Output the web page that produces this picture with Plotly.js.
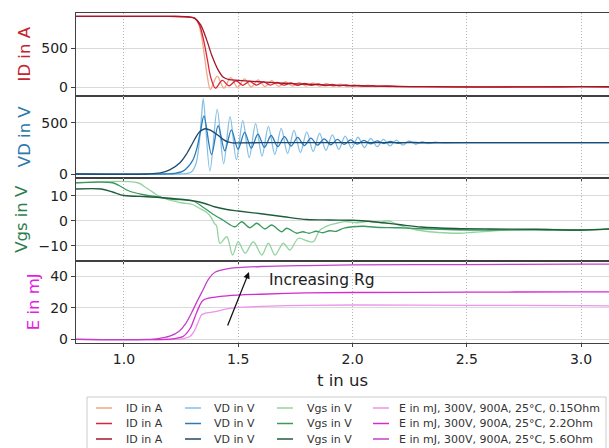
<!DOCTYPE html>
<html>
<head>
<meta charset="utf-8">
<script src="https://cdn.plot.ly/plotly-3.0.1.min.js"></script>
<style>
  html, body { margin: 0; padding: 0; background: #fff; }
  #chart { width: 609px; height: 448px; }
</style>
</head>
<body>
<div id="chart"></div>
<script>
// Turn-off transients at 300 V / 900 A / 25 °C for three gate resistances.
const rgNames = ['0.15Ohm', '2.2Ohm', '5.6Ohm'];

// Drain current, A
const tId015 = [0.79, 1.20, 1.28, 1.31, 1.325, 1.34, 1.352, 1.364, 1.378, 1.408, 1.437, 1.467, 1.497, 1.527, 1.557, 1.587, 1.617, 1.647, 1.677, 1.707, 1.737, 1.767, 1.797, 1.827, 1.857, 1.887, 1.917, 1.947, 1.977, 2.007, 2.037, 2.067, 2.097, 2.127, 2.157, 2.20, 2.30, 2.45, 2.60, 2.80, 3.00, 3.13];
const id015  = [905, 905, 900, 885, 820, 640, 400, 150, -30, 140, -15, 120, -5, 105, 0, 92, 5, 80, 8, 70, 10, 60, 10, 52, 10, 45, 8, 38, 6, 30, 5, 24, 4, 18, 3, 8, 3, 0, -2, 2, 4, 3];
const tId22  = [0.79, 1.20, 1.28, 1.31, 1.33, 1.35, 1.365, 1.38, 1.40, 1.43, 1.46, 1.49, 1.52, 1.55, 1.58, 1.61, 1.64, 1.67, 1.70, 1.73, 1.76, 1.79, 1.82, 1.85, 1.88, 1.91, 1.94, 1.97, 2.00, 2.03, 2.06, 2.09, 2.12, 2.15, 2.20, 2.30, 2.45, 2.60, 2.80, 3.00, 3.13];
const id22   = [905, 905, 898, 880, 800, 580, 350, 120, -15, 85, 15, 80, 22, 72, 25, 65, 25, 58, 24, 52, 22, 46, 20, 40, 17, 34, 14, 28, 12, 22, 10, 17, 8, 13, 6, 4, 1, -1, 2, 4, 3];
const tId56  = [0.79, 1.20, 1.28, 1.31, 1.335, 1.36, 1.385, 1.41, 1.435, 1.46, 1.50, 1.55, 1.62, 1.70, 1.80, 1.90, 2.00, 2.10, 2.25, 2.45, 2.65, 2.85, 3.00, 3.13];
const id56   = [905, 905, 900, 880, 800, 620, 400, 230, 125, 95, 85, 75, 62, 48, 35, 25, 17, 11, 6, 2, 1, 2, 4, 3];

// Drain voltage, V
const tVd015 = [0.79, 1.24, 1.27, 1.295, 1.315, 1.33, 1.34, 1.347, 1.376, 1.408, 1.436, 1.464, 1.492, 1.520, 1.548, 1.576, 1.604, 1.632, 1.660, 1.688, 1.716, 1.744, 1.772, 1.800, 1.828, 1.856, 1.884, 1.912, 1.940, 1.968, 1.996, 2.024, 2.052, 2.080, 2.108, 2.136, 2.164, 2.192, 2.220, 2.248, 2.276, 2.304, 2.332, 2.36, 2.40, 2.50, 3.13];
const vd015  = [0, 0, 3, 20, 100, 320, 580, 735, 30, 630, 100, 560, 140, 520, 160, 490, 175, 465, 190, 445, 200, 425, 210, 410, 220, 395, 230, 382, 240, 370, 250, 358, 258, 348, 266, 338, 274, 330, 282, 322, 290, 316, 296, 310, 302, 305, 305];
const tVd22  = [0.79, 1.18, 1.22, 1.26, 1.30, 1.32, 1.335, 1.350, 1.383, 1.412, 1.441, 1.470, 1.499, 1.528, 1.557, 1.586, 1.615, 1.644, 1.673, 1.702, 1.731, 1.760, 1.789, 1.818, 1.847, 1.876, 1.905, 1.934, 1.963, 1.992, 2.021, 2.050, 2.079, 2.108, 2.137, 2.166, 2.195, 2.25, 2.30, 2.40, 3.13];
const vd22   = [0, 0, 5, 30, 130, 260, 420, 565, 190, 470, 225, 430, 240, 405, 252, 388, 260, 375, 266, 365, 272, 357, 277, 350, 281, 343, 285, 337, 288, 332, 291, 327, 294, 322, 297, 318, 300, 310, 304, 305, 305];
const tVd56  = [0.79, 1.10, 1.16, 1.20, 1.245, 1.275, 1.30, 1.33, 1.355, 1.38, 1.41, 1.435, 1.455, 1.475, 1.50, 1.60, 3.13];
const vd56   = [0, 0, 10, 40, 110, 200, 300, 410, 441, 425, 380, 335, 312, 303, 303, 305, 305];

// Gate-source voltage, V
const tVgs015 = [0.79, 1.06, 1.10, 1.15, 1.19, 1.25, 1.30, 1.33, 1.36, 1.38, 1.395, 1.405, 1.42, 1.45, 1.475, 1.50, 1.53, 1.566, 1.603, 1.632, 1.661, 1.697, 1.726, 1.763, 1.80, 1.828, 1.858, 1.90, 1.93, 1.97, 2.02, 2.07, 2.12, 2.155, 2.19, 2.25, 2.32, 2.40, 2.47, 2.53, 2.62, 2.75, 2.90, 3.00, 3.13];
const vgs015  = [15.2, 15.2, 13, 10, 8.5, 7.2, 6.5, 5, 3.5, 1.5, -1, -2, -9, -6.4, -13.7, -8.4, -13, -8.4, -13.7, -9, -13.7, -9, -11.7, -7, -8, -8.4, -3.7, -1.7, -1, -0.3, -0.8, -0.2, -0.6, 0, -1.2, -3, -4.2, -4.8, -5, -4.6, -4, -3.6, -3.5, -3.7, -3.2];
const tVgs22  = [0.79, 0.95, 0.98, 1.02, 1.08, 1.15, 1.21, 1.30, 1.346, 1.39, 1.433, 1.486, 1.515, 1.551, 1.581, 1.617, 1.646, 1.69, 1.712, 1.756, 1.783, 1.81, 1.84, 1.87, 1.90, 1.93, 1.96, 2.00, 2.05, 2.10, 2.20, 2.30, 2.45, 2.60, 2.80, 3.00, 3.13];
const vgs22   = [15.2, 15.2, 14, 12, 10.5, 9.5, 8.6, 8.0, 5.4, 2.6, 0.3, -2.4, -0.4, -2.8, -1, -3.3, -1.7, -4.4, -3, -5, -4.4, -5, -4.2, -4.8, -4, -4.2, -3, -2.4, -2.2, -2.6, -2.8, -3.2, -3.6, -3.7, -3.6, -3.8, -3.3];
const tVgs56  = [0.79, 0.90, 0.95, 1.00, 1.10, 1.20, 1.30, 1.35, 1.40, 1.45, 1.50, 1.60, 1.70, 1.80, 1.90, 2.00, 2.10, 2.20, 2.30, 2.45, 2.60, 2.80, 3.00, 3.13];
const vgs56   = [12.7, 12.7, 11.5, 10.1, 9.6, 9.0, 8.0, 7.0, 5.5, 4.5, 3.9, 2.8, 1.6, 0.5, 0.3, 0.2, -0.5, -1.5, -2.5, -3.1, -3.3, -3.4, -3.7, -3.2];

// Switching energy, mJ
const tE015 = [0.79, 1.22, 1.26, 1.29, 1.31, 1.325, 1.34, 1.355, 1.40, 1.45, 1.50, 1.60, 1.80, 2.00, 2.50, 3.00, 3.13];
const e015  = [0, 0, 0.5, 2, 6, 11, 15.5, 16.5, 17.5, 19.3, 20.2, 20.8, 21.5, 21.7, 21.5, 21.3, 21.1];
const tE22  = [0.79, 1.18, 1.22, 1.26, 1.29, 1.31, 1.33, 1.345, 1.37, 1.45, 1.60, 1.80, 2.00, 2.50, 3.00, 3.13];
const e22   = [0, 0, 0.5, 2, 7, 14, 21, 24.5, 26, 27.5, 28.5, 29.3, 29.6, 29.8, 30, 30];
const tE56  = [0.79, 1.10, 1.15, 1.20, 1.24, 1.27, 1.30, 1.32, 1.345, 1.37, 1.40, 1.45, 1.50, 1.60, 1.80, 2.00, 2.50, 3.00, 3.13];
const e56   = [0, 0, 0.5, 2, 5, 10, 18, 24, 31, 38, 42.5, 44.5, 45.3, 46, 46.6, 47, 47.2, 47.5, 47.5];

const xTicks = [1.0, 1.5, 2.0, 2.5, 3.0];
const idTicks = [0, 500];
const vdTicks = [0, 500];
const vgsTicks = [-10, 0, 10];
const eTicks = [0, 20, 40];

const idLabel = 'ID in A';
const vdLabel = 'VD in V';
const vgsLabel = 'Vgs in V';
const eLabel = 'E in mJ, 300V, 900A, 25°C, ';

// colours per quantity, ordered 0.15 / 2.2 / 5.6 Ohm
const idColors  = ['#f4a582', '#d6263a', '#a3172c'];
const vdColors  = ['#86bfe6', '#2b7bba', '#1d4a70'];
const vgsColors = ['#92d4a0', '#3c9a5e', '#1f5c3c'];
const eColors   = ['#ec94ea', '#d42bd3', '#c340cb'];

const FONT = 'DejaVu Sans, Verdana, sans-serif';

const groups = [
  { ts: [tId015, tId22, tId56],   ys: [id015, id22, id56],   colors: idColors,  x: 'x',  y: 'y',  names: rgNames.map(() => idLabel) },
  { ts: [tVd015, tVd22, tVd56],   ys: [vd015, vd22, vd56],   colors: vdColors,  x: 'x2', y: 'y2', names: rgNames.map(() => vdLabel) },
  { ts: [tVgs015, tVgs22, tVgs56], ys: [vgs015, vgs22, vgs56], colors: vgsColors, x: 'x3', y: 'y3', names: rgNames.map(() => vgsLabel) },
  { ts: [tE015, tE22, tE56],      ys: [e015, e22, e56],      colors: eColors,   x: 'x4', y: 'y4', names: rgNames.map(r => eLabel + r) }
];

const traces = [];
groups.forEach(g => {
  for (let i = 0; i < 3; i++) {
    traces.push({
      type: 'scatter', mode: 'lines',
      x: g.ts[i], y: g.ys[i], xaxis: g.x, yaxis: g.y,
      name: g.names[i],
      line: { color: g.colors[i], width: 1.3, shape: 'spline', smoothing: 0.9 },
      showlegend: false, hoverinfo: 'skip'
    });
  }
});

const X_RANGE = [0.79, 3.1225];
const frameColor = '#404040';

function xAxis(anchor, labels, extra) {
  return Object.assign({
    anchor: anchor, domain: [0, 1], range: X_RANGE,
    showline: true, mirror: true, linecolor: frameColor, linewidth: 1,
    ticks: 'outside', ticklen: 3, tickcolor: frameColor, tickwidth: 1,
    tickvals: xTicks, tickformat: '.1f', showticklabels: labels,
    tickfont: { family: FONT, size: 14, color: '#222' },
    showgrid: true, gridcolor: '#b4b4b4', griddash: '1px,2px', gridwidth: 1,
    zeroline: false, fixedrange: true
  }, extra || {});
}

function yAxis(anchor, domain, range, ticks, title, color) {
  return {
    anchor: anchor, domain: domain, range: range,
    showline: true, mirror: false, linecolor: frameColor, linewidth: 1.2,
    ticks: 'outside', ticklen: 4, tickcolor: frameColor, tickwidth: 1,
    tickvals: ticks, tickfont: { family: FONT, size: 14, color: '#222' },
    showgrid: true, gridcolor: '#dadada', gridwidth: 1,
    zeroline: false, fixedrange: true,
    title: { text: title, font: { family: FONT, size: 16.5, color: color }, standoff: 6 }
  };
}

// pixel helpers for the legend block below the plot area
const PL = 76, PW = 533, PB = 343, PH = 330;
const px2x = p => (p - PL) / PW;
const py2y = p => (PB - p) / PH;

const shapes = [{
  type: 'rect', xref: 'paper', yref: 'paper',
  x0: px2x(87), x1: px2x(606), y0: py2y(397), y1: py2y(455),
  line: { color: '#cccccc', width: 1 }, fillcolor: 'rgba(255,255,255,0.9)', layer: 'above'
}];
const annotations = [];

const colLineStart = [96, 185, 277, 373];
const colTextStart = [124, 212, 305, 397];
const rowY = [408, 423.5, 439];
groups.forEach((g, c) => {
  for (let r = 0; r < 3; r++) {
    shapes.push({
      type: 'line', xref: 'paper', yref: 'paper', layer: 'above',
      x0: px2x(colLineStart[c]), x1: px2x(colLineStart[c] + 16),
      y0: py2y(rowY[r]), y1: py2y(rowY[r]),
      line: { color: g.colors[r], width: 1.5 }
    });
    annotations.push({
      xref: 'paper', yref: 'paper', x: px2x(colTextStart[c]), y: py2y(rowY[r]),
      xanchor: 'left', yanchor: 'middle', showarrow: false,
      text: g.names[r], font: { family: FONT, size: 11, color: '#333' }
    });
  }
});

annotations.push({
  xref: 'x4', yref: 'y4', x: 1.867, y: 37.5, showarrow: false,
  text: 'Increasing Rg', font: { family: FONT, size: 15.5, color: '#222' }
});
annotations.push({
  xref: 'x4', yref: 'y4', x: 1.547, y: 42.5, axref: 'x4', ayref: 'y4', ax: 1.451, ay: 7.8,
  text: '', showarrow: true, arrowhead: 2, arrowsize: 1, arrowwidth: 1.3, arrowcolor: '#111'
});

const layout = {
  width: 609, height: 448,
  margin: { l: 76, r: 0, t: 13, b: 105 },
  paper_bgcolor: '#ffffff', plot_bgcolor: '#ffffff',
  showlegend: false, hovermode: false,
  font: { family: FONT, color: '#222' },
  xaxis:  xAxis('y', false),
  xaxis2: xAxis('y2', false),
  xaxis3: xAxis('y3', false),
  xaxis4: xAxis('y4', true, { title: { text: 't in us', font: { family: FONT, size: 16.5, color: '#222' }, standoff: 8 } }),
  yaxis:  yAxis('x',  [0.75, 1.0],  [-109, 949],   idTicks,  idLabel,  '#c8222e'),
  yaxis2: yAxis('x2', [0.5, 0.75],  [-39, 765],    vdTicks,  vdLabel,  '#2a78ac'),
  yaxis3: yAxis('x3', [0.25, 0.5],  [-15.9, 17.1], vgsTicks, vgsLabel, '#2e7d4f'),
  yaxis4: yAxis('x4', [0.0, 0.25],  [-2.3, 49.8],  eTicks,   'E in mJ', '#e41ce4'),
  shapes: shapes,
  annotations: annotations
};

Plotly.newPlot('chart', traces, layout, { staticPlot: true, displayModeBar: false });
</script>
</body>
</html>
